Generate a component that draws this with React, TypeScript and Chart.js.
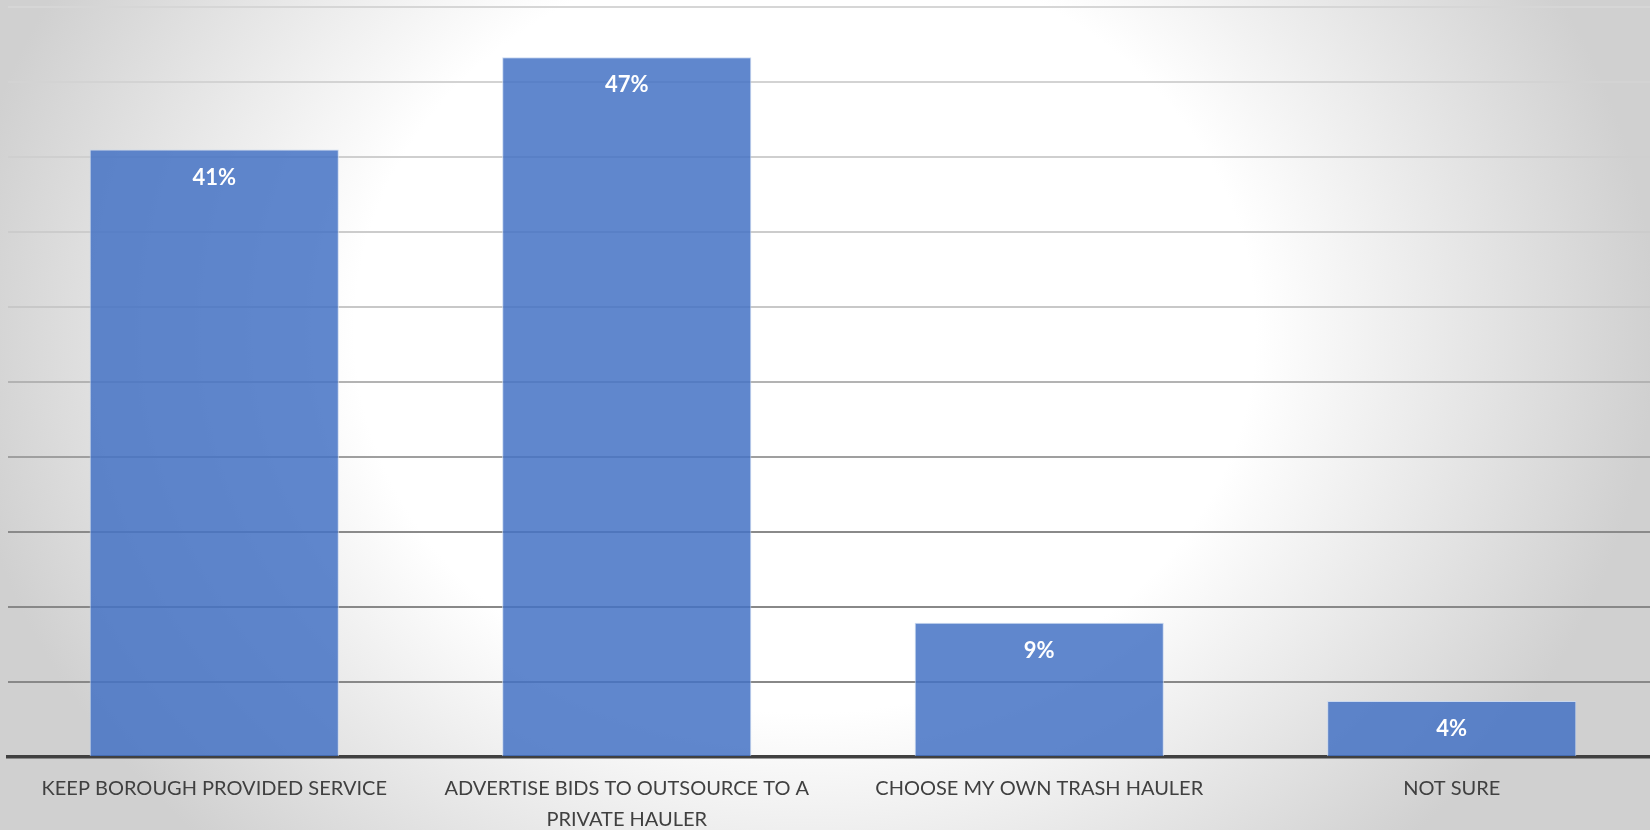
import React, { useEffect, useRef } from "react";
import { Chart, registerables } from "chart.js";

Chart.register(...registerables);

const categories: (string | string[])[] = [
  "KEEP BOROUGH PROVIDED SERVICE",
  ["ADVERTISE BIDS TO OUTSOURCE TO A", "PRIVATE HAULER"],
  "CHOOSE MY OWN TRASH HAULER",
  "NOT SURE",
];
const values: number[] = [40.5, 46.65, 8.95, 3.73];
const valueLabels: string[] = ["41%", "47%", "9%", "4%"];
const yMin = 0;
const yMax = 50;
const yStep = 5;

function gridGray(v: number): string {
  let g: number;
  if (v >= 30) g = 200 + (v - 30) * 0.7;
  else if (v >= 15) g = 138 + ((v - 15) / 15) * 62;
  else g = 136;
  g = Math.round(g);
  return `rgb(${g},${g},${g})`;
}

const bgPlugin = {
  id: "bgGradient",
  beforeDraw(chart: any) {
    const { ctx, width, height } = chart;
    ctx.save();
    ctx.fillStyle = "#d0d0d0";
    ctx.fillRect(0, 0, width, height);
    const cx = 805;
    const cy = 330;
    const sy = 0.85;
    ctx.translate(cx, cy);
    ctx.scale(1, sy);
    const R = 850;
    const g = ctx.createRadialGradient(0, 0, 0, 0, 0, R);
    g.addColorStop(0, "#ffffff");
    g.addColorStop(0.53, "#ffffff");
    g.addColorStop(1, "#d0d0d0");
    ctx.fillStyle = g;
    ctx.fillRect(-cx, -cy / sy, width, height / sy);
    ctx.restore();
  },
};

const valueLabelPlugin = {
  id: "valueLabels",
  afterDatasetsDraw(chart: any) {
    const { ctx } = chart;
    const meta = chart.getDatasetMeta(0);
    ctx.save();
    ctx.fillStyle = "#ffffff";
    ctx.font = "bold 22px Lato";
    ctx.textAlign = "center";
    ctx.textBaseline = "middle";
    meta.data.forEach((el: any, i: number) => {
      ctx.fillText(valueLabels[i], el.x, el.y + 28);
    });
    ctx.restore();
  },
};

export default function App() {
  const ref = useRef<HTMLCanvasElement | null>(null);
  useEffect(() => {
    if (!ref.current) return;
    const chart = new Chart(ref.current, {
      type: "bar",
      data: {
        labels: categories,
        datasets: [
          {
            data: values,
            backgroundColor: "rgba(68,114,196,0.85)",
            borderColor: "rgba(200,215,240,0.9)",
            borderWidth: 1,
            categoryPercentage: 1,
            barPercentage: 0.604,
          },
        ],
      },
      options: {
        animation: false,
        responsive: false,
        maintainAspectRatio: false,
        layout: { padding: { left: 8, top: 7, right: 0, bottom: 0 } },
        plugins: {
          legend: { display: false },
          tooltip: { enabled: false },
        },
        scales: {
          x: {
            grid: { display: false, drawTicks: false },
            border: { display: true, color: "#404040", width: 3.5 },
            ticks: {
              color: "#404040",
              font: { family: "Lato", size: 20, lineHeight: 1.55 },
              padding: 16,
              maxRotation: 0,
              autoSkip: false,
            },
            afterFit(scale: any) {
              scale.height = 73;
            },
          },
          y: {
            min: yMin,
            max: yMax,
            ticks: { display: false, stepSize: yStep },
            grid: {
              drawTicks: false,
              lineWidth: 2,
              color: (ctx: any) => gridGray(ctx.tick ? ctx.tick.value : 0),
            },
            border: { display: false },
            afterFit(scale: any) {
              scale.width = 0;
            },
          },
        },
      },
      plugins: [bgPlugin, valueLabelPlugin],
    });
    return () => chart.destroy();
  }, []);
  return (
    <div
      style={{
        position: "fixed",
        left: 0,
        top: 0,
        width: 1650,
        height: 830,
        overflow: "hidden",
      }}
    >
      <canvas ref={ref} width={1658} height={830} style={{ display: "block" }} />
    </div>
  );
}
